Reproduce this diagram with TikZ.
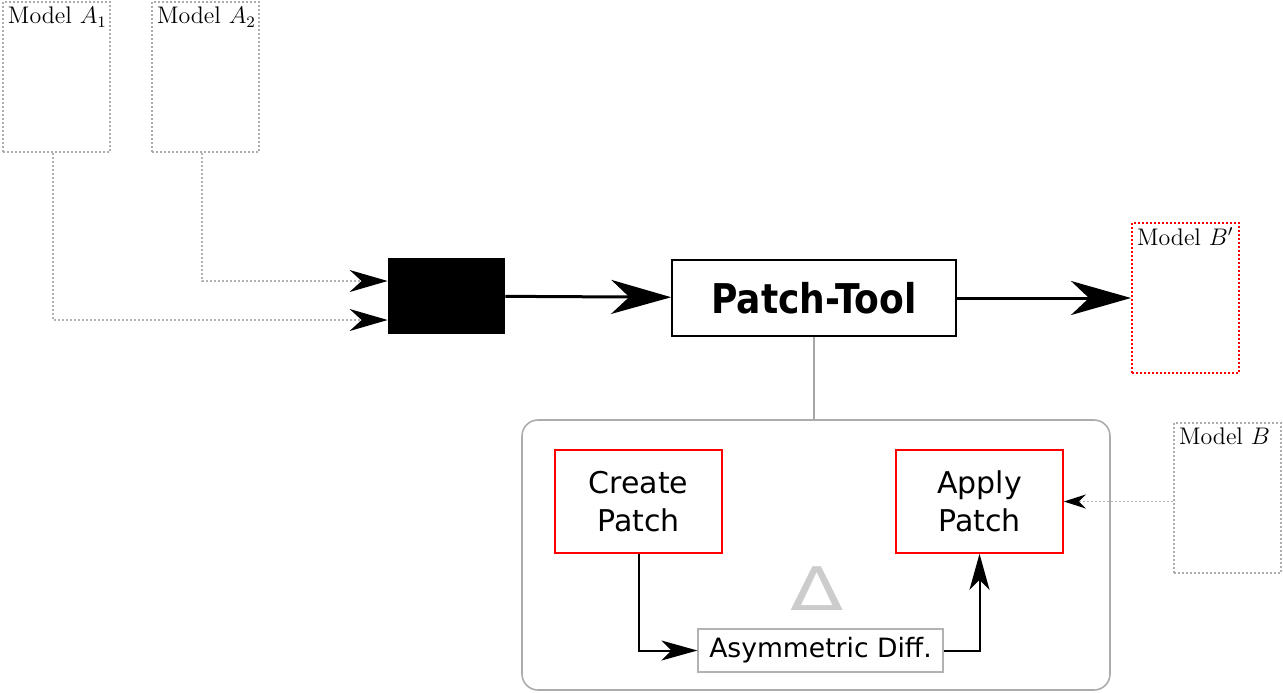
\documentclass[tikz,border=0pt]{standalone}
\usepackage{fontspec}
\usepackage{graphicx}
\setsansfont{DejaVu Sans}
\usetikzlibrary{arrows.meta, positioning}

\tikzset{
  model/.style={draw=gray!65, densely dotted, line width=1pt, minimum width=53.5pt,
    minimum height=75pt, inner sep=0pt},
  modellabel/.style={anchor=north west, inner sep=2.8pt,
    font=\fontsize{12}{14}\selectfont},
  feed/.style={draw=gray!60, dash pattern=on 0.8pt off 1.2pt, line width=0.8pt,
    -{Stealth[black, length=19pt, width=11pt, inset=6pt]}},
  bigarrow/.style={line width=1.5pt, -{Stealth[length=30pt, width=17pt, inset=9pt]}},
  steparrow/.style={line width=1pt, -{Stealth[length=18pt, width=10pt, inset=5pt]}},
  redbox/.style={draw=red, line width=0.8pt, minimum width=83.5pt, minimum height=51.5pt,
    align=center, font=\sffamily\fontsize{15}{19}\selectfont}
}

\begin{document}
\begin{tikzpicture}[x=0.5pt, y=-0.5pt]
    \useasboundingbox (0,0) rectangle (1283,692);

    % input models
    \node[model, anchor=north west,
        label={[modellabel]north west:Model $A_1$}] (A1) at (2,1) {};
    \node[model, anchor=north west,
        label={[modellabel]north west:Model $A_2$}] (A2) at (151,1) {};

    \node[fill=black, minimum width=58.5pt, minimum height=38pt, inner sep=0pt] (merge) at (446.5,296) {};
    \draw[feed] ([xshift=-1.7pt]A1.south) |- ([yshift=-12pt]merge.west);
    \draw[feed] ([xshift=-1.7pt]A2.south) |- ([yshift=7.5pt]merge.west);

    \node[draw, line width=0.8pt, minimum width=142pt, minimum height=38pt,
        font=\sffamily\bfseries\fontsize{20.5}{22}\selectfont] (tool) at (814,298)
        {\scalebox{0.88}[1]{Patch-Tool}};
    \draw[bigarrow] (merge) -- (tool);

    \node[model, draw=red, anchor=north west,
        label={[modellabel]north west:Model $B'$}] (Bnew) at (1131,222) {};
    \draw[bigarrow] (tool) -- (tool -| Bnew.west);

    % inner workings
    \node[draw=gray!65, rounded corners=8pt, line width=0.8pt, minimum width=294pt,
        minimum height=135pt] (frame) at (816,555) {};
    \draw[gray!70, line width=0.8pt] (tool.south) -- (tool.south |- frame.north);

    \node[redbox] (create) at (638.5,501.5) {Create\\Patch};
    \node[redbox] (apply) at (979.5,501.5) {Apply\\Patch};

    \node[model, anchor=north west,
        label={[modellabel]north west:Model $B$}] (B) at (1173,422) {};
    \draw[draw=gray!60, dash pattern=on 0.8pt off 1.2pt, line width=0.8pt,
        -{Stealth[black, length=11pt, width=7pt, inset=3.5pt]}] (B.west |- apply) -- (apply.east);

    \node[text=gray!40, font=\sffamily\fontsize{30}{32}\selectfont] (delta) at (817,589)
        {\scalebox{1.3}[1]{Δ}};
    \node[draw=gray!60, line width=0.6pt, minimum width=122.5pt, minimum height=21.5pt,
        inner sep=0pt, font=\sffamily\fontsize{13.3}{15}\selectfont] (asym) at (820.5,650.5) {Asymmetric Diff.};

    \draw[steparrow] (create.south) |- (asym.west);
    \draw[steparrow] (asym.east) -| (apply.south);
\end{tikzpicture}
\end{document}
